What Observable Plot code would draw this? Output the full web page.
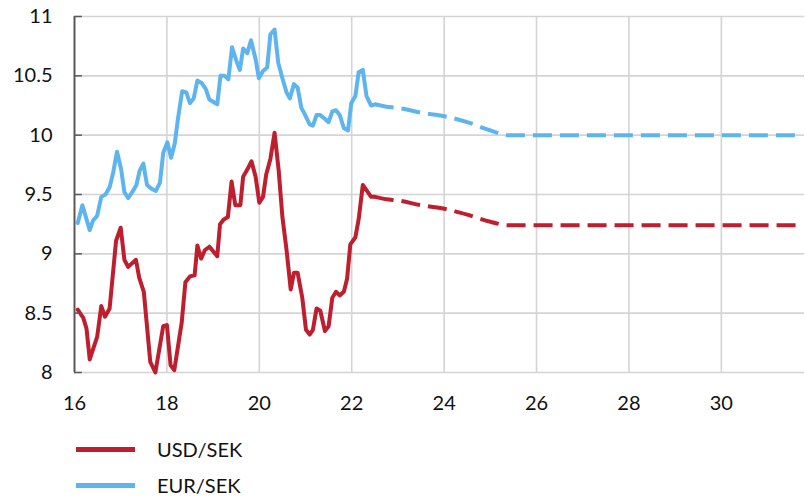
<!DOCTYPE html>
<html>
<head>
<meta charset="utf-8">
<script src="https://cdn.jsdelivr.net/npm/d3@7"></script>
<script src="https://cdn.jsdelivr.net/npm/@observablehq/plot@0.6"></script>
<style>
  body { margin: 0; background: #fff; font-family: Lato, "Open Sans", sans-serif; }
  #chart svg { display: block; }
  .legend { margin-left: 76px; margin-top: 6px; }
  .row { display: flex; align-items: center; height: 36px; font-size: 20px; color: #111; }
  .swatch { width: 59px; height: 5px; margin-right: 22px; }
</style>
</head>
<body>
<div id="chart"></div>
<div class="legend" id="legend"></div>
<script>
// Exchange rates, SEK per unit (x = year, 16 = 2016)
const usdYears = [16.07,16.19,16.26,16.33,16.49,16.58,16.66,16.76,16.90,17.00,17.08,17.16,17.33,17.40,17.50,17.64,17.75,17.92,18.00,18.08,18.16,18.32,18.40,18.50,18.60,18.66,18.74,18.82,18.92,19.09,19.15,19.23,19.32,19.40,19.48,19.59,19.65,19.74,19.83,19.92,20.00,20.08,20.15,20.24,20.33,20.42,20.50,20.59,20.68,20.75,20.83,20.93,21.01,21.09,21.16,21.24,21.32,21.42,21.50,21.58,21.66,21.74,21.83,21.90,21.97,22.08,22.15,22.24,22.33,22.42,22.50];
const usdSek = [8.53,8.46,8.37,8.11,8.30,8.56,8.47,8.54,9.11,9.22,8.95,8.89,8.95,8.80,8.68,8.09,8.00,8.39,8.40,8.06,8.02,8.42,8.76,8.81,8.82,9.07,8.96,9.03,9.06,8.98,9.25,9.29,9.31,9.61,9.41,9.41,9.65,9.71,9.78,9.65,9.43,9.48,9.67,9.80,10.02,9.70,9.31,9.03,8.70,8.84,8.84,8.63,8.36,8.32,8.36,8.54,8.52,8.35,8.39,8.63,8.68,8.65,8.68,8.79,9.08,9.14,9.29,9.58,9.53,9.48,9.48];

const eurYears = [16.07,16.17,16.33,16.40,16.49,16.58,16.67,16.76,16.84,16.92,17.01,17.08,17.16,17.25,17.34,17.41,17.49,17.57,17.66,17.76,17.85,17.92,18.01,18.09,18.17,18.24,18.33,18.42,18.50,18.58,18.66,18.75,18.84,18.92,19.09,19.16,19.25,19.33,19.41,19.50,19.58,19.65,19.74,19.82,19.92,19.99,20.08,20.17,20.24,20.33,20.41,20.50,20.59,20.66,20.75,20.83,20.91,20.98,21.09,21.16,21.24,21.32,21.41,21.50,21.58,21.66,21.74,21.83,21.92,21.99,22.08,22.15,22.24,22.32,22.42,22.50];
const eurSek = [9.26,9.41,9.20,9.28,9.32,9.48,9.50,9.56,9.69,9.86,9.71,9.52,9.47,9.52,9.58,9.70,9.76,9.58,9.55,9.53,9.60,9.85,9.94,9.81,9.93,10.14,10.37,10.36,10.27,10.31,10.46,10.44,10.39,10.30,10.26,10.50,10.50,10.47,10.74,10.63,10.55,10.73,10.69,10.80,10.64,10.48,10.54,10.57,10.85,10.89,10.61,10.48,10.36,10.31,10.43,10.40,10.23,10.18,10.09,10.08,10.17,10.17,10.14,10.11,10.20,10.21,10.17,10.06,10.04,10.27,10.33,10.53,10.55,10.33,10.25,10.26];

// Forecast path (dashed)
const forecastYears = [22.50,22.75,23.00,23.50,24.00,24.50,25.00,25.40,31.75];
const usdForecast   = [9.48,9.46,9.45,9.41,9.38,9.33,9.27,9.24,9.24];
const eurForecast   = [10.26,10.24,10.23,10.19,10.16,10.11,10.04,10.00,10.00];

const xTicks = [16,18,20,22,24,26,28,30];
const yTicks = [8,8.5,9,9.5,10,10.5,11];

const seriesNames = ["USD/SEK","EUR/SEK"];
const seriesColors = ["#BE1E2D","#5DB4EE"];

const zip = (xs, ys) => xs.map((x, i) => ({x, y: ys[i]}));
const usd = zip(usdYears, usdSek);
const eur = zip(eurYears, eurSek);
const usdF = zip(forecastYears, usdForecast);
const eurF = zip(forecastYears, eurForecast);

const grid = "#d4d4d4";
const axisInk = "#595959";

const chart = Plot.plot({
  width: 805,
  height: 425,
  marginTop: 16,
  marginBottom: 53,
  marginLeft: 74,
  marginRight: 1,
  style: {fontFamily: "Lato, 'Open Sans', sans-serif", fontSize: "20px", color: "#111", background: "#fff"},
  x: {domain: [16, 31.8], ticks: xTicks, tickFormat: d => String(d), tickSize: 0, tickPadding: 23, label: null},
  y: {domain: [8, 11], ticks: yTicks, tickFormat: d => String(d), tickSize: 0, tickPadding: 22, label: null},
  marks: [
    Plot.ruleY(yTicks, {stroke: grid, strokeWidth: 1.6}),
    Plot.ruleX(xTicks.filter(d => d > 16), {stroke: grid, strokeWidth: 1.6}),
    Plot.line(usdF, {x: "x", y: "y", stroke: seriesColors[0], strokeWidth: 4, strokeDasharray: "19,8", strokeLinecap: "butt", curve: "monotone-x"}),
    Plot.line(eurF, {x: "x", y: "y", stroke: seriesColors[1], strokeWidth: 4, strokeDasharray: "19,8", strokeLinecap: "butt", curve: "monotone-x"}),
    Plot.line(usd, {x: "x", y: "y", stroke: seriesColors[0], strokeWidth: 4}),
    Plot.line(eur, {x: "x", y: "y", stroke: seriesColors[1], strokeWidth: 4}),
    Plot.ruleX([16], {stroke: axisInk, strokeWidth: 2}),
    Plot.ruleY(yTicks, {x1: 16, x2: 16.17, stroke: axisInk, strokeWidth: 1.5})
  ]
});
document.getElementById("chart").append(chart);

const legend = document.getElementById("legend");
seriesNames.forEach((name, i) => {
  const row = document.createElement("div");
  row.className = "row";
  const sw = document.createElement("span");
  sw.className = "swatch";
  sw.style.background = seriesColors[i];
  const label = document.createElement("span");
  label.textContent = name;
  row.append(sw, label);
  legend.append(row);
});
</script>
</body>
</html>
